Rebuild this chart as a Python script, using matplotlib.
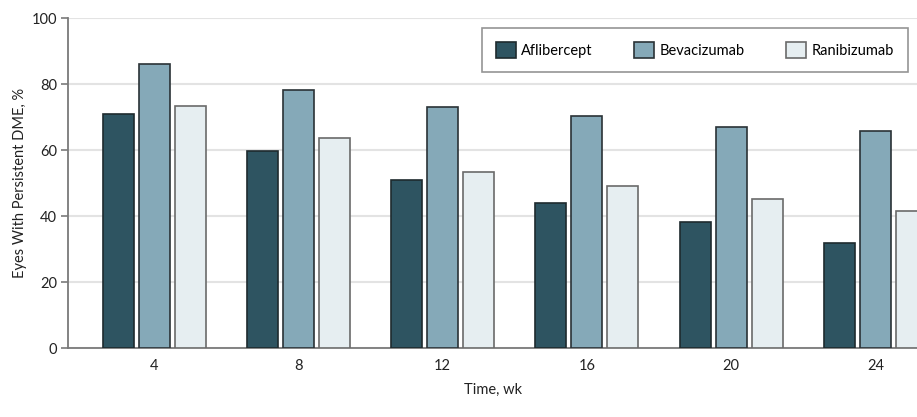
import matplotlib
matplotlib.use("Agg")
import matplotlib.pyplot as plt
import numpy as np

weeks = ["4", "8", "12", "16", "20", "24"]
aflibercept = [70.9, 59.6, 50.9, 43.9, 38.3, 31.7]
bevacizumab = [86.2, 78.2, 73.0, 70.2, 67.1, 65.7]
ranibizumab = [73.4, 63.6, 53.2, 49.2, 45.2, 41.5]
series_names = ["Aflibercept", "Bevacizumab", "Ranibizumab"]
yticks = [0, 20, 40, 60, 80, 100]

plt.rcParams['font.family'] = ['Lato', 'DejaVu Sans']

fig = plt.figure(figsize=(9.17, 4.17), dpi=100)
ax = fig.add_axes([68/917, 69/417, 1 - 68/917, 330/417])

x = np.arange(len(weeks))
w = 0.215
off = 0.25
face = ["#2e5461", "#85a9b8", "#e6eef1"]
edge = ["#1e2a2e", "#2a3236", "#6a6a6a"]
for i, vals in enumerate([aflibercept, bevacizumab, ranibizumab]):
    ax.bar(x + (i - 1) * off, vals, width=w, color=face[i], edgecolor=edge[i],
           linewidth=1.2, label=series_names[i], zorder=3)

ax.set_xlim(-0.597, 5.288)
ax.set_ylim(0, 100)
ax.set_yticks(yticks)
ax.set_xticks(x)
ax.set_xticklabels(weeks)
ax.yaxis.grid(True, color="#e3e3e3", linewidth=1.5, zorder=0)
ax.set_axisbelow(True)
for s in ["top", "right"]:
    ax.spines[s].set_visible(False)
for s in ["left", "bottom"]:
    ax.spines[s].set_color("#7a7a7a")
    ax.spines[s].set_linewidth(1.3)
ax.tick_params(axis="y", length=5, width=1.2, color="#7a7a7a", labelsize=10.5,
               labelcolor="#222222", pad=3)
ax.tick_params(axis="x", length=0, labelsize=10.5, labelcolor="#222222", pad=8)
ax.set_ylabel("Eyes With Persistent DME, %", fontsize=10.5, color="#222222", labelpad=3)
ax.set_xlabel("Time, wk", fontsize=10.5, color="#222222", labelpad=7)

leg = fig.legend(loc="lower left", bbox_to_anchor=(482/917, 345/417, 426/917, 44/417),
                 mode="expand", ncol=3, fontsize=10.5, frameon=True, fancybox=False,
                 edgecolor="#7a7a7a", handlelength=1.35, handleheight=1.35,
                 handletextpad=0.4, borderaxespad=0, borderpad=0.95, columnspacing=3)
leg.get_frame().set_linewidth(1.2)

fig.savefig("out.png", dpi=100)
